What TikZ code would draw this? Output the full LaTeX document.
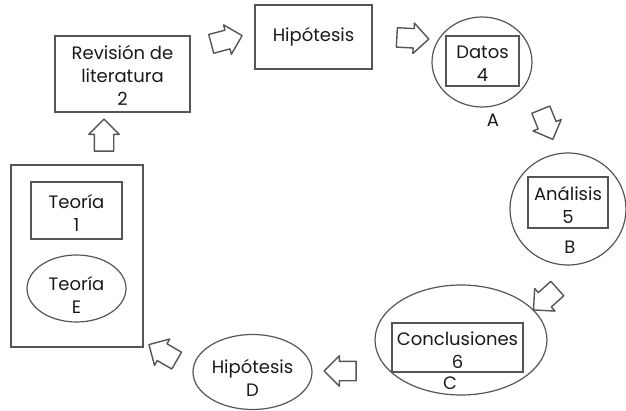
\documentclass[tikz,border=0pt]{standalone}
\usepackage{fontspec}
\setmainfont{Poppins}
\usetikzlibrary{shapes.geometric,shapes.arrows}
\definecolor{lc}{HTML}{555555}
\definecolor{tc}{HTML}{1A1A1A}
\begin{document}
\begin{tikzpicture}[x=1pt,y=-1pt,
  ln/.style={draw=lc, line width=1.2pt},
  box/.style={ln, rectangle, inner sep=0pt},
  ell/.style={ln, ellipse, inner sep=0pt},
  txt/.style={align=center, inner sep=0pt, text=tc, font=\fontsize{18}{23}\selectfont},
  blockarr/.style={ln, line width=1.4pt, line join=round, single arrow, single arrow head extend=5.5pt, minimum height=32pt, inner sep=9pt, shape border uses incircle=false}
]
\useasboundingbox (0,0) rectangle (626,411);
% boxes
\node[box, minimum width=135pt, minimum height=76pt] (rev) at (122.5,74) {};
\node[txt] (revt) at (122.5,75) {Revisión de\\literatura\\2};
\node[box, minimum width=117pt, minimum height=64pt] (hip) at (313.5,37) {};
\node[txt] (hipt) at (313.5,37) {Hipótesis};
% Datos
\node[ell, minimum width=100pt, minimum height=90pt] (datC) at (482,62) {};
\node[box, minimum width=73pt, minimum height=50pt] (datR) at (482.5,61) {};
\node[txt] (datt) at (482.5,64) {Datos\\4};
\node[txt] (labA) at (493,120) {A};
% Analisis
\node[ell, minimum width=116pt, minimum height=112pt] (anaC) at (568,209) {};
\node[box, minimum width=80pt, minimum height=51pt] (anaR) at (568,202.5) {};
\node[txt] (anat) at (568,205) {Análisis\\5};
\node[txt] (labB) at (570,247) {B};
% Conclusiones
\node[ell, minimum width=172pt, minimum height=110pt] (conC) at (461,340) {};
\node[box, minimum width=131pt, minimum height=49pt] (conR) at (457.5,347.5) {};
\node[txt] (cont) at (457.5,350) {Conclusiones\\6};
\node[txt] (labC) at (450,383) {C};
% Hipotesis D
\node[ell, minimum width=119pt, minimum height=75pt] (hipD) at (252.5,372) {};
\node[txt] (hipDt) at (252.5,377.5) {Hipótesis\\D};
% Teoria
\node[box, minimum width=132pt, minimum height=182pt] (teo) at (77,256) {};
\node[box, minimum width=91pt, minimum height=57pt] (teo1) at (76.5,210.5) {};
\node[txt] (teo1t) at (76.5,213) {Teoría\\1};
\node[ell, minimum width=99pt, minimum height=67pt] (teoE) at (76.5,288.5) {};
\node[txt] (teoEt) at (76.5,295) {Teoría\\E};
% block arrows
\node[blockarr, rotate=15] (a1) at (222,41) {};
\node[blockarr, rotate=-3] (a2) at (408,38) {};
\node[blockarr, rotate=-68] (a3) at (545,120) {};
\node[blockarr, rotate=-138] (a4) at (549,296) {};
\node[blockarr, rotate=180] (a5) at (345,371) {};
\node[blockarr, rotate=150] (a6) at (167,355) {};
\node[blockarr, rotate=90] (a7) at (104,140) {};
\end{tikzpicture}
\end{document}
